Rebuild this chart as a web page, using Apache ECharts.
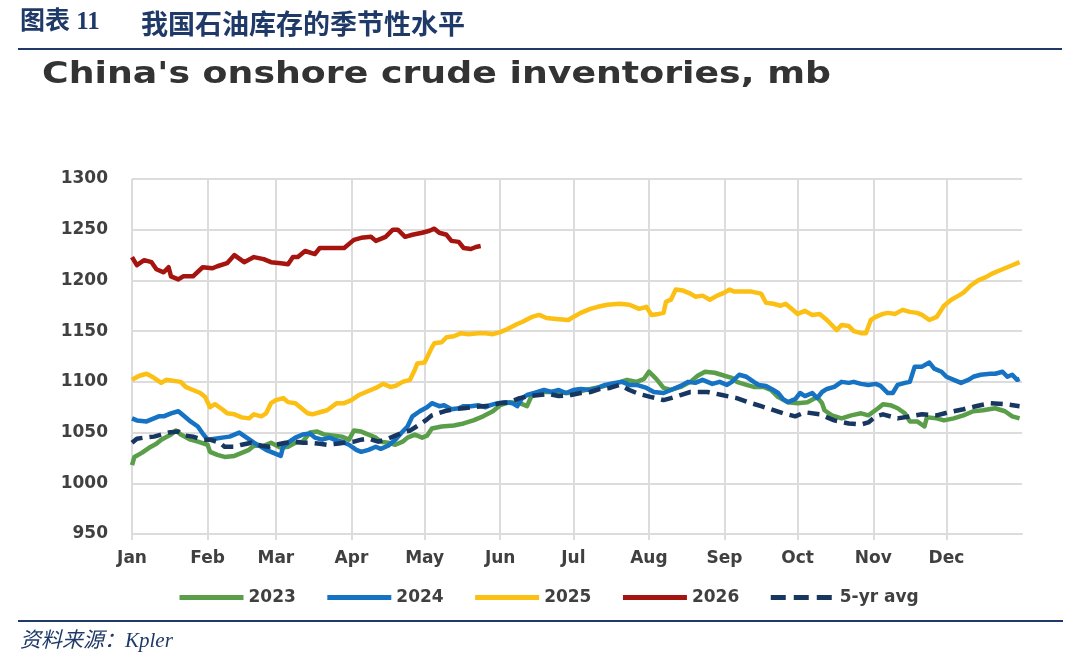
<!DOCTYPE html>
<html>
<head>
<meta charset="utf-8">
<script src="https://cdn.jsdelivr.net/npm/echarts@6/dist/echarts.min.js"></script>
<style>
  html, body { margin: 0; padding: 0; background: #fff; }
  #chart { width: 1080px; height: 661px; }
</style>
</head>
<body>
<div id="chart"></div>
<script>
// 月份刻度（以一年中的天数计）
const monthStarts = [0, 31, 59, 90, 120, 151, 181, 212, 243, 273, 304, 334];
const monthNames = ['Jan', 'Feb', 'Mar', 'Apr', 'May', 'Jun', 'Jul', 'Aug', 'Sep', 'Oct', 'Nov', 'Dec'];

// 各年库存 [天, 百万桶]
const inv2023 = [[0,1018],[1,1026],[4,1030],[7,1035],[10,1039],[12,1043],[16,1048],[18,1052],[20,1048],[24,1043],[27,1041],[31,1038],[32,1031],[35,1028],[38,1026],[42,1027],[45,1030],[48,1033],[50,1037],[54,1037],[57,1040],[61,1035],[64,1036],[67,1040],[70,1041],[73,1050],[76,1051],[79,1048],[83,1047],[86,1046],[89,1043],[91,1052],[94,1051],[97,1048],[100,1045],[102,1041],[105,1040],[108,1038],[111,1041],[113,1045],[116,1048],[119,1045],[121,1047],[123,1054],[127,1056],[132,1057],[136,1059],[140,1062],[144,1066],[148,1071],[151,1077],[155,1080],[159,1079],[162,1076],[164,1087],[169,1090],[173,1090],[178,1089],[182,1089],[186,1092],[190,1094],[194,1096],[199,1099],[203,1102],[207,1100],[210,1103],[212,1110],[215,1103],[218,1094],[221,1092],[225,1095],[229,1100],[232,1106],[235,1110],[239,1109],[243,1106],[246,1104],[248,1100],[252,1097],[255,1095],[259,1095],[262,1092],[265,1085],[269,1080],[273,1079],[277,1080],[281,1085],[283,1079],[284,1072],[287,1067],[291,1064],[295,1067],[299,1069],[302,1067],[306,1074],[308,1078],[311,1077],[314,1074],[317,1069],[319,1061],[322,1061],[325,1056],[326,1065],[330,1064],[333,1062],[337,1064],[341,1067],[345,1071],[349,1072],[354,1074],[358,1071],[361,1066],[364,1064]];
const inv2024 = [[0,1064],[2,1062],[6,1061],[8,1063],[11,1066],[13,1066],[16,1069],[19,1071],[21,1067],[24,1061],[27,1056],[29,1049],[31,1043],[34,1044],[37,1045],[40,1046],[42,1048],[44,1050],[47,1045],[50,1040],[53,1036],[55,1033],[58,1030],[61,1027],[62,1036],[64,1040],[67,1045],[70,1048],[73,1049],[75,1045],[78,1043],[81,1045],[83,1043],[86,1041],[89,1038],[92,1033],[94,1031],[97,1033],[100,1036],[102,1034],[105,1037],[108,1043],[111,1051],[113,1056],[115,1066],[118,1071],[121,1075],[123,1079],[126,1076],[128,1077],[131,1073],[134,1074],[136,1076],[139,1076],[142,1077],[145,1075],[147,1077],[150,1079],[153,1080],[156,1079],[158,1076],[160,1084],[162,1087],[165,1089],[169,1092],[172,1090],[175,1092],[178,1089],[181,1092],[184,1093],[188,1092],[191,1094],[194,1097],[198,1099],[201,1100],[204,1097],[207,1097],[211,1094],[214,1090],[218,1089],[221,1092],[225,1096],[228,1100],[231,1099],[234,1102],[238,1098],[241,1100],[244,1097],[246,1100],[249,1107],[252,1105],[255,1100],[257,1097],[260,1096],[263,1092],[265,1089],[267,1083],[269,1080],[272,1083],[274,1089],[276,1086],[279,1089],[281,1084],[283,1090],[285,1093],[288,1095],[291,1100],[294,1099],[296,1100],[299,1098],[302,1097],[305,1098],[307,1096],[310,1089],[312,1089],[314,1097],[317,1099],[319,1100],[321,1115],[324,1115],[327,1119],[329,1113],[332,1110],[334,1105],[337,1102],[340,1099],[343,1102],[345,1105],[348,1107],[352,1108],[354,1108],[357,1110],[359,1105],[361,1107],[363,1102],[364,1103]];
const inv2025 = [[0,1102],[3,1106],[6,1108],[9,1104],[12,1099],[14,1102],[20,1100],[22,1095],[24,1093],[28,1089],[30,1085],[32,1075],[34,1078],[37,1073],[39,1069],[42,1068],[45,1065],[48,1064],[50,1068],[53,1066],[55,1069],[57,1079],[59,1082],[62,1084],[64,1080],[67,1079],[69,1075],[72,1069],[74,1068],[77,1070],[80,1072],[84,1079],[87,1079],[90,1082],[93,1087],[96,1090],[100,1094],[103,1098],[106,1095],[108,1096],[111,1100],[114,1102],[116,1112],[117,1118],[120,1119],[123,1134],[124,1138],[127,1139],[129,1144],[132,1145],[135,1148],[138,1147],[142,1148],[145,1148],[148,1147],[151,1149],[154,1152],[158,1157],[160,1159],[164,1164],[167,1166],[170,1163],[174,1162],[179,1161],[181,1164],[184,1168],[188,1172],[191,1174],[195,1176],[200,1177],[204,1176],[208,1172],[211,1174],[213,1166],[216,1167],[218,1168],[219,1179],[221,1181],[223,1191],[226,1190],[229,1187],[231,1184],[234,1185],[237,1181],[240,1185],[243,1188],[245,1191],[247,1189],[250,1189],[254,1189],[258,1187],[260,1178],[263,1177],[266,1175],[268,1177],[271,1171],[273,1167],[276,1170],[279,1166],[282,1167],[285,1161],[287,1156],[289,1151],[291,1156],[294,1155],[296,1150],[299,1148],[301,1148],[303,1161],[305,1164],[308,1167],[310,1168],[313,1167],[316,1171],[319,1169],[322,1168],[324,1166],[327,1161],[330,1164],[333,1175],[336,1181],[339,1185],[341,1188],[344,1195],[347,1200],[350,1203],[353,1207],[356,1210],[358,1212],[361,1215],[364,1218]];
const inv2026 = [[0,1223],[2,1215],[5,1220],[8,1218],[10,1211],[13,1208],[15,1213],[16,1204],[19,1201],[21,1204],[25,1204],[29,1213],[33,1212],[35,1214],[39,1217],[42,1225],[46,1218],[50,1223],[54,1221],[57,1218],[61,1217],[64,1216],[66,1223],[68,1223],[71,1229],[75,1226],[77,1232],[81,1232],[84,1232],[87,1232],[91,1240],[94,1242],[98,1243],[100,1239],[104,1243],[107,1250],[109,1250],[112,1243],[115,1245],[119,1247],[122,1249],[124,1251],[126,1247],[129,1245],[131,1239],[134,1238],[136,1232],[139,1231],[141,1233],[143,1234]];
const avg5yr = [[0,1040],[2,1044],[5,1045],[9,1046],[12,1048],[15,1050],[19,1051],[22,1047],[25,1046],[29,1043],[32,1043],[36,1040],[38,1036],[42,1036],[45,1038],[49,1040],[53,1037],[56,1036],[59,1038],[63,1040],[67,1041],[70,1040],[73,1040],[77,1039],[80,1038],[84,1039],[87,1040],[91,1041],[94,1043],[97,1044],[101,1041],[105,1044],[108,1047],[111,1050],[114,1052],[118,1058],[121,1063],[123,1067],[128,1071],[132,1073],[136,1074],[140,1075],[144,1076],[148,1077],[151,1079],[155,1080],[159,1084],[163,1086],[167,1087],[171,1088],[175,1086],[180,1087],[184,1089],[188,1090],[192,1093],[196,1094],[200,1097],[204,1092],[208,1088],[213,1085],[218,1082],[221,1084],[225,1087],[229,1090],[233,1090],[236,1090],[242,1087],[248,1084],[254,1079],[258,1076],[262,1073],[267,1069],[272,1066],[276,1070],[282,1068],[288,1062],[294,1059],[299,1058],[302,1060],[305,1066],[308,1068],[314,1064],[319,1066],[324,1068],[330,1067],[335,1070],[341,1073],[346,1076],[352,1079],[358,1078],[364,1076]];

const navy = '#1f3a68';
const textGray = '#404040';
const gridGray = '#dcdcdc';
const labelFont = { color: textGray, fontSize: 17, fontWeight: 'bold', fontFamily: 'DejaVu Sans' };

function lineSeries(name, data, color, type) {
    return {
        name,
        type: 'line',
        data,
        symbol: 'none',
        smooth: false,
        lineStyle: { color, width: 4.5, type: type || 'solid', join: 'round' },
        itemStyle: { color },
    };
}

const chart = echarts.init(document.getElementById('chart'));
chart.setOption({
    animation: false,
    grid: { left: 132, right: 58, top: 179, bottom: 127 },
    graphic: [
        { type: 'text', left: 20, top: 10, style: { text: '图表 11', fill: navy, font: 'bold 25px "Liberation Serif", "Noto Sans CJK SC"' } },
        { type: 'text', left: 141, top: 10, style: { text: '我国石油库存的季节性水平', fill: navy, font: 'bold 27px "Noto Sans CJK SC"' } },
        { type: 'line', shape: { x1: 18, y1: 49, x2: 1062, y2: 49 }, style: { stroke: navy, lineWidth: 2 } },
        {
            type: 'text', x: 42, y: 75, scaleX: 1.21,
            style: { text: "China's onshore crude inventories, mb", fill: '#333', font: 'bold 30px "DejaVu Sans"', textVerticalAlign: 'middle' },
        },
        { type: 'line', shape: { x1: 18, y1: 621, x2: 1063, y2: 621 }, style: { stroke: navy, lineWidth: 2 } },
        { type: 'text', left: 20, top: 631, style: { text: '资料来源：Kpler', fill: navy, font: 'italic 21px "Liberation Serif", "Noto Sans CJK SC"' } },
    ],
    legend: {
        left: 172,
        top: 584,
        itemWidth: 64,
        itemHeight: 16,
        itemGap: 29,
        itemStyle: { opacity: 0 },
        lineStyle: { width: 5 },
        textStyle: labelFont,
        data: ['2023', '2024', '2025', '2026', { name: '5-yr avg', lineStyle: { width: 5, type: [15, 8] } }],
    },
    xAxis: {
        type: 'value',
        min: 0,
        max: 365,
        axisLine: { show: true, lineStyle: { color: gridGray, width: 2 } },
        axisTick: { show: true, customValues: monthStarts, length: 6, lineStyle: { color: gridGray, width: 2 } },
        axisLabel: {
            ...labelFont,
            customValues: monthStarts,
            margin: 16,
            formatter: v => monthNames[monthStarts.indexOf(v)] || '',
        },
        splitLine: { show: true, lineStyle: { color: gridGray, width: 2 } },
    },
    yAxis: {
        type: 'value',
        min: 950,
        max: 1300,
        interval: 50,
        axisLine: { show: false },
        axisTick: { show: false },
        axisLabel: { ...labelFont, margin: 24, formatter: v => String(v) },
        splitLine: { lineStyle: { color: gridGray, width: 2 } },
    },
    series: [
        lineSeries('2023', inv2023, '#5b9e4a'),
        lineSeries('2024', inv2024, '#1672c3'),
        lineSeries('2025', inv2025, '#fcbf14'),
        lineSeries('2026', inv2026, '#a5140f'),
        lineSeries('5-yr avg', avg5yr, '#173660', [12, 7]),
    ],
});
</script>
</body>
</html>
